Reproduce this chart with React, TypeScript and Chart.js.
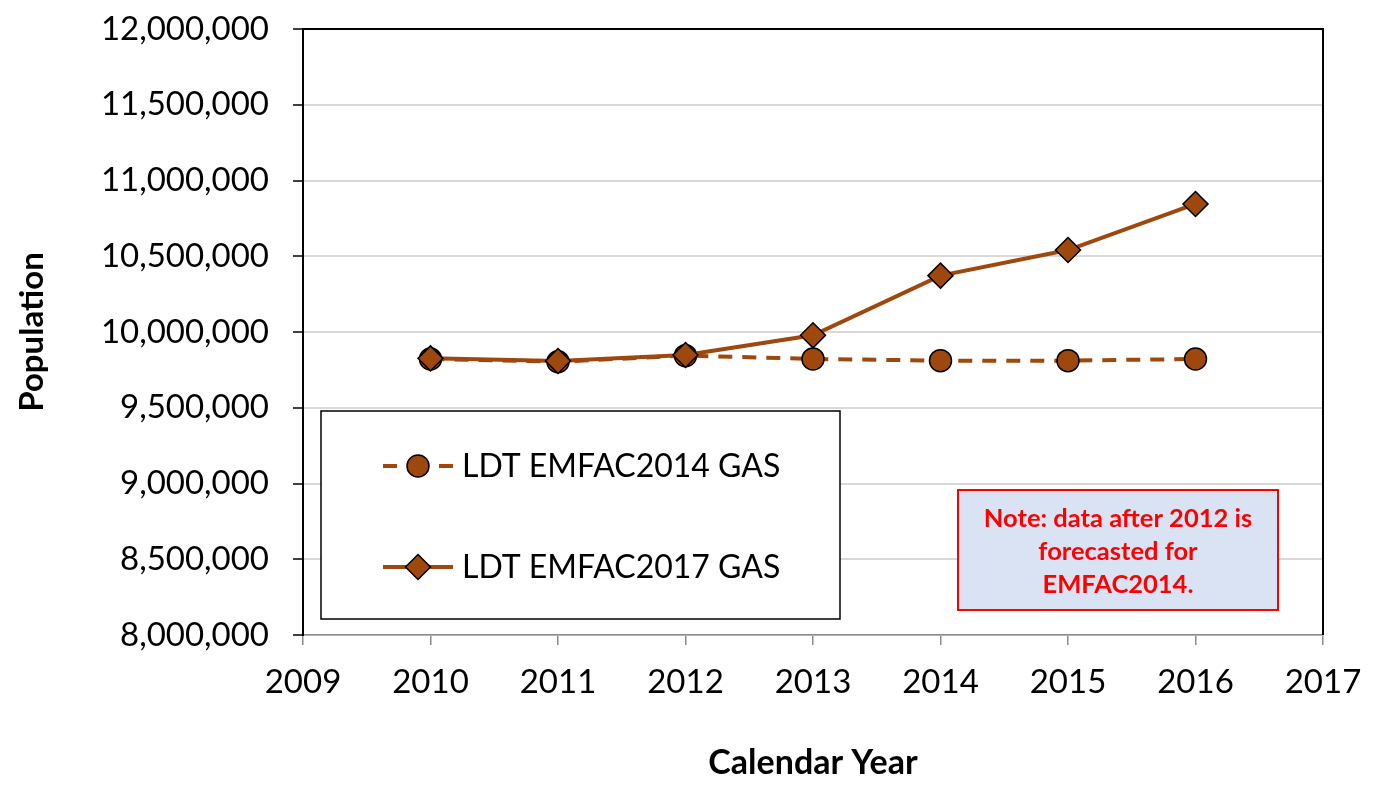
import React, { useEffect, useRef } from "react";
import { Chart, registerables } from "chart.js";

Chart.register(...registerables);

const years: number[] = [2010, 2011, 2012, 2013, 2014, 2015, 2016];
const emfac2014Gas: number[] = [9822000, 9804000, 9844000, 9822000, 9811000, 9811000, 9822000];
const emfac2017Gas: number[] = [9826000, 9809000, 9848000, 9978000, 10372000, 10541000, 10845000];
const seriesLabels: string[] = ["LDT EMFAC2014 GAS", "LDT EMFAC2017 GAS"];
const noteLines: string[] = ["Note: data after 2012 is", "forecasted for", "EMFAC2014."];
const xTitle = "Calendar Year";
const yTitle = "Population";

const BROWN = "#9E480E";
const FONT = "Lato, 'Open Sans', sans-serif";

function drawMarker(ctx: CanvasRenderingContext2D, style: string, x: number, y: number, r: number) {
  ctx.save();
  ctx.fillStyle = BROWN;
  ctx.strokeStyle = "#000";
  ctx.lineWidth = 1.5;
  ctx.beginPath();
  if (style === "circle") {
    ctx.arc(x, y, r, 0, Math.PI * 2);
  } else {
    ctx.moveTo(x - r, y);
    ctx.lineTo(x, y - r);
    ctx.lineTo(x + r, y);
    ctx.lineTo(x, y + r);
    ctx.closePath();
  }
  ctx.fill();
  ctx.stroke();
  ctx.restore();
}

const overlayPlugin = {
  id: "overlay",
  afterDraw(chart: any) {
    const ctx: CanvasRenderingContext2D = chart.ctx;
    const a = chart.chartArea;
    // plot frame top & right
    ctx.save();
    ctx.strokeStyle = "#000";
    ctx.lineWidth = 2;
    ctx.beginPath();
    ctx.moveTo(a.left, a.top);
    ctx.lineTo(a.right, a.top);
    ctx.lineTo(a.right, a.bottom);
    ctx.stroke();
    ctx.restore();

    // legend box
    const lx = 321, ly = 411, lw = 519, lh = 208;
    ctx.save();
    ctx.fillStyle = "#fff";
    ctx.fillRect(lx, ly, lw, lh);
    ctx.strokeStyle = "#000";
    ctx.lineWidth = 1.5;
    ctx.strokeRect(lx, ly, lw, lh);
    const rows = [466, 567];
    rows.forEach((ry, i) => {
      const ds = chart.data.datasets[i];
      ctx.save();
      ctx.strokeStyle = ds.borderColor;
      ctx.lineWidth = ds.borderWidth;
      ctx.beginPath();
      if (ds.borderDash && ds.borderDash.length) {
        ctx.moveTo(383, ry); ctx.lineTo(397, ry);
        ctx.moveTo(439, ry); ctx.lineTo(453, ry);
      } else {
        ctx.moveTo(383, ry); ctx.lineTo(453, ry);
      }
      ctx.stroke();
      ctx.restore();
      drawMarker(ctx, ds.pointStyle, 418, ry, ds.pointRadius);
      ctx.fillStyle = "#000";
      ctx.font = `32px ${FONT}`;
      ctx.textBaseline = "middle";
      ctx.textAlign = "left";
      ctx.fillText(ds.label, 462, ry + 1);
    });
    ctx.restore();

    // note box
    const nx = 958, ny = 490, nw = 320, nh = 120;
    ctx.save();
    ctx.fillStyle = "#DAE3F3";
    ctx.fillRect(nx, ny, nw, nh);
    ctx.strokeStyle = "#FF0000";
    ctx.lineWidth = 2;
    ctx.strokeRect(nx, ny, nw, nh);
    ctx.fillStyle = "#FF0000";
    ctx.font = `bold 25.5px ${FONT}`;
    ctx.textAlign = "center";
    ctx.textBaseline = "alphabetic";
    noteLines.forEach((t, i) => {
      ctx.fillText(t, nx + nw / 2, 527 + i * 33);
    });
    ctx.restore();
  },
};

export default function App() {
  const ref = useRef<HTMLCanvasElement | null>(null);
  useEffect(() => {
    document.body.style.margin = "0";
    const canvas = ref.current!;
    const chart = new Chart(canvas, {
      type: "line",
      data: {
        datasets: [
          {
            label: seriesLabels[0],
            data: years.map((y, i) => ({ x: y, y: emfac2014Gas[i] })),
            borderColor: BROWN,
            backgroundColor: BROWN,
            borderWidth: 4,
            borderDash: [14, 10],
            pointStyle: "circle",
            pointRadius: 11,
            pointBackgroundColor: BROWN,
            pointBorderColor: "#000",
            pointBorderWidth: 1.5,
            order: 1,
          },
          {
            label: seriesLabels[1],
            data: years.map((y, i) => ({ x: y, y: emfac2017Gas[i] })),
            borderColor: BROWN,
            backgroundColor: BROWN,
            borderWidth: 4,
            pointStyle: "rectRot",
            pointRadius: 12.5,
            pointBackgroundColor: BROWN,
            pointBorderColor: "#000",
            pointBorderWidth: 1.5,
            order: 0,
          },
        ] as any,
      },
      options: {
        animation: false,
        responsive: false,
        maintainAspectRatio: false,
        layout: { padding: { top: 29, right: 51, left: 0, bottom: 0 } },
        plugins: { legend: { display: false }, tooltip: { enabled: false } },
        scales: {
          x: {
            type: "linear",
            min: 2009,
            max: 2017,
            afterFit: (s: any) => {
              s.height = 151;
              s.paddingLeft = 0;
              s.paddingRight = 0;
            },
            ticks: {
              stepSize: 1,
              color: "#000",
              font: { family: FONT, size: 33 },
              padding: 18,
              maxRotation: 0,
              callback: (v: any) => String(v),
            },
            grid: { drawOnChartArea: false, drawTicks: true, tickLength: 10, color: "#8C8C8C", lineWidth: 1.5 },
            border: { color: "#8C8C8C", width: 1.5 },
            title: {
              display: true,
              text: xTitle,
              color: "#000",
              font: { family: FONT, size: 34, weight: "bold" },
              padding: { top: 0, bottom: 3 },
            },
          },
          y: {
            min: 8000000,
            max: 12000000,
            afterFit: (s: any) => {
              s.width = 303;
              s.paddingTop = 0;
              s.paddingBottom = 0;
            },
            ticks: {
              stepSize: 500000,
              color: "#000",
              font: { family: FONT, size: 33 },
              padding: 24,
              callback: (v: any) => Number(v).toLocaleString("en-US"),
            },
            grid: { color: "#D9D9D9", lineWidth: 2, tickLength: 10, tickColor: "#000", tickWidth: 1.5 },
            border: { color: "#000", width: 2 },
            title: {
              display: true,
              text: yTitle,
              color: "#000",
              font: { family: FONT, size: 33, weight: "bold" },
              padding: { top: 13, bottom: 0 },
            },
          },
        },
      } as any,
      plugins: [overlayPlugin],
    });
    return () => chart.destroy();
  }, []);
  return (
    <div style={{ position: "absolute", left: 0, top: 0, width: 1374, height: 786, background: "#fff" }}>
      <canvas ref={ref} width={1374} height={786} style={{ width: 1374, height: 786, display: "block" }} />
    </div>
  );
}
